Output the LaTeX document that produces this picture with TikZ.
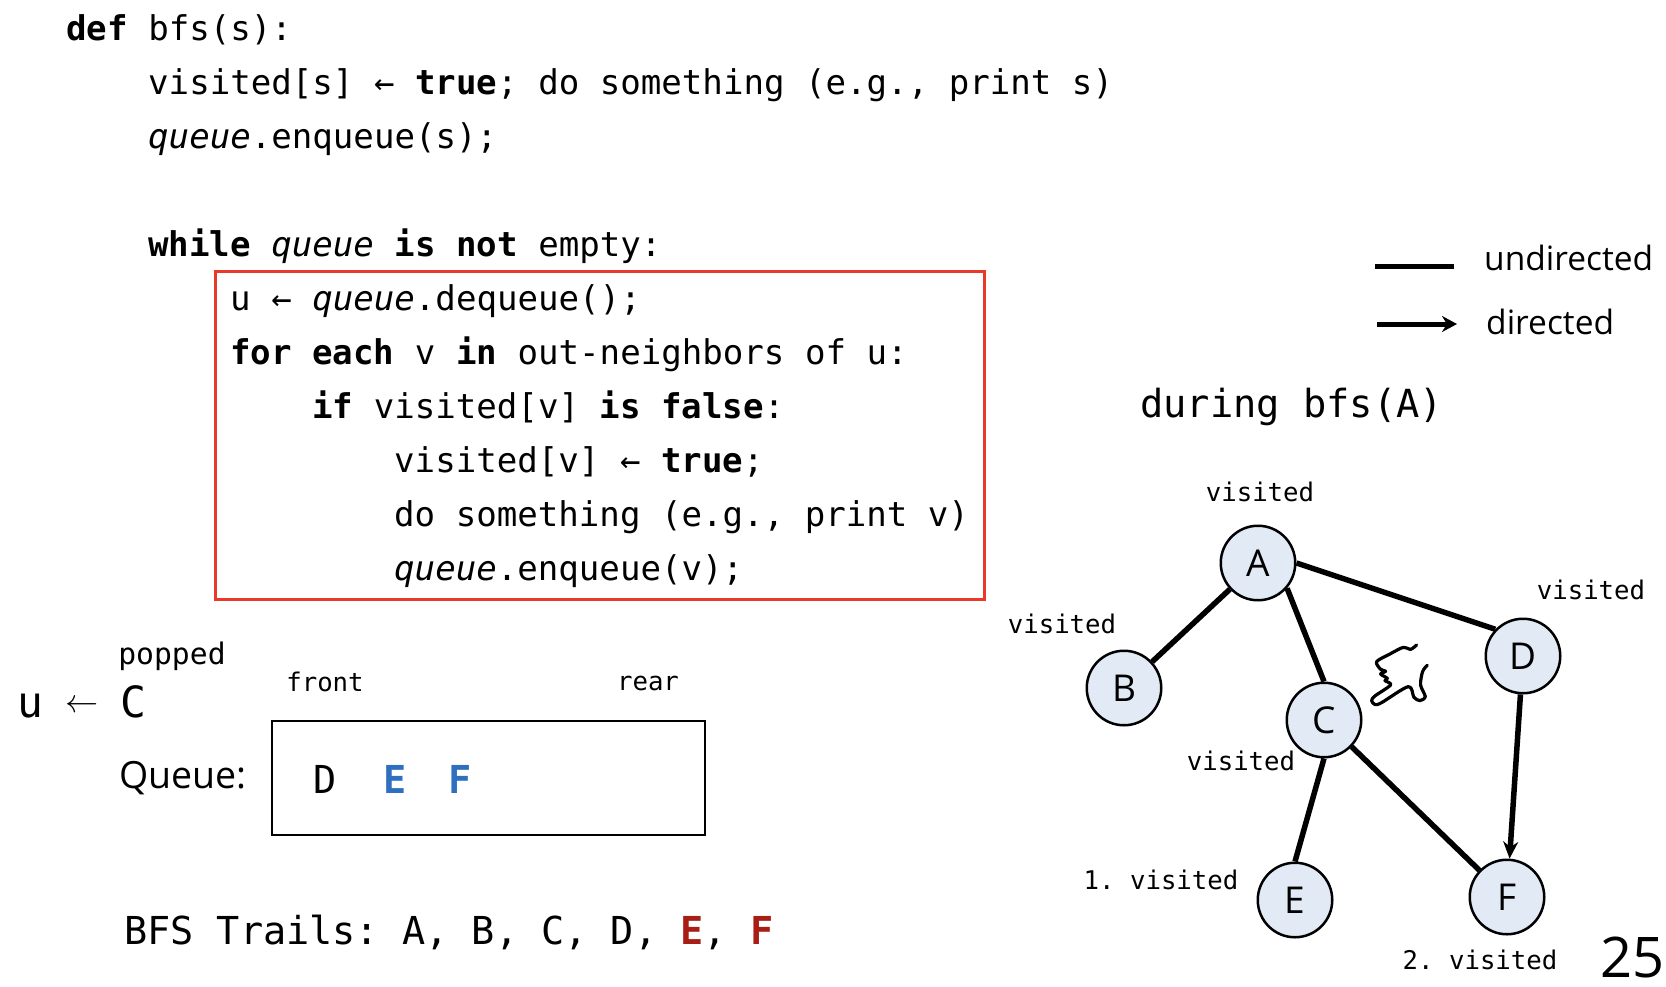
\documentclass[tikz,border=0pt]{standalone}
\usepackage{fontspec}
\setmainfont{Open Sans}
\setmonofont{DejaVu Sans Mono}
\usetikzlibrary{arrows.meta}

\definecolor{boxred}{HTML}{E8392B}
\definecolor{nodefill}{HTML}{E1EAF5}
\definecolor{newblue}{HTML}{2F6FBF}
\definecolor{trailred}{HTML}{A81E14}

\newcommand{\kw}[1]{\textbf{#1}}
\newcommand{\qu}{\textit{queue}}

\tikzset{
  codeline/.style={anchor=base west, inner sep=0pt, font=\fontsize{34.1}{40}\selectfont\ttfamily},
  biglabel/.style={anchor=base west, inner sep=0pt, font=\fontsize{38.5}{44}\selectfont\ttfamily},
  smalllabel/.style={inner sep=0pt, font=\fontsize{25.7}{30}\selectfont\ttfamily},
  sanslabel/.style={anchor=base west, inner sep=0pt, font=\fontsize{33.5}{38}\selectfont},
  vertex/.style={circle, draw, fill=nodefill, line width=2.5pt, minimum size=74.5pt, inner sep=0pt,
    font=\fontsize{37}{42}\selectfont},
  edgeline/.style={line width=5.5pt},
}

\begin{document}
\begin{tikzpicture}[x=1pt, y=-1pt]
  \useasboundingbox (0,0) rectangle (1666,986);

  % pseudocode
  \foreach \x/\y/\t [count=\i] in {
    66/40/{\kw{def} bfs(s):},
    148/94/{visited[s] ← \kw{true}; do something (e.g., print s)},
    148/148/{\qu.enqueue(s);},
    148/256/{\kw{while} \qu{} \kw{is not} empty:},
    230/310/{u ← \qu.dequeue();},
    230/364/{\kw{for each} v \kw{in} out-neighbors of u:},
    312/418/{\kw{if} visited[v] \kw{is false}:},
    394/472/{visited[v] ← \kw{true};},
    394/526/{do something (e.g., print v)},
    394/580/{\qu.enqueue(v);}} {
    \node[codeline] (line\i) at (\x,\y) {\t};
  }
  \node[draw=boxred, line width=2.2pt, inner sep=0pt, minimum width=769pt, minimum height=328pt] (redbox) at (600,435.5) {};

  % legend
  \coordinate (und1) at (1375,266);
  \coordinate (und2) at (1454,266);
  \coordinate (dir1) at (1377,324);
  \coordinate (dir2) at (1457,324);
  \draw[line width=5pt] (und1) -- (und2);
  \draw[line width=5pt, -{Stealth[length=15pt,width=16pt]}] (dir1) -- (dir2);
  \node[sanslabel] (undlabel) at (1484,270) {undirected};
  \node[sanslabel] (dirlabel) at (1486,334) {directed};
  \node[biglabel, font=\fontsize{38.7}{44}\selectfont\ttfamily] (during) at (1140,417) {during bfs(A)};

  % queue state
  \node[smalllabel, font=\fontsize{29.7}{34}\selectfont\ttfamily] (popped) at (172,656) {popped};
  \node[anchor=base west, inner sep=0pt, font=\fontsize{43}{48}\selectfont\ttfamily] (popline) at (17,717)
    {u \makebox[26pt]{\raisebox{5pt}{\scalebox{1.33}{$\leftarrow$}}} C};
  \node[smalllabel] (front) at (325,682) {front};
  \node[smalllabel] (rear) at (648,683) {rear};
  \node[anchor=base west, inner sep=0pt, font=\fontsize{37.5}{42}\selectfont] (queuelabel) at (119,788) {Queue:};
  \node[draw, line width=2.4pt, inner sep=0pt, minimum width=433pt, minimum height=114pt] (queuebox) at (488.5,778) {};
  \node[biglabel, anchor=base] (qD) at (325,793) {D};
  \node[biglabel, anchor=base, text=newblue] (qE) at (395,793) {\kw{E}};
  \node[biglabel, anchor=base, text=newblue] (qF) at (460,793) {\kw{F}};
  \node[biglabel] (trails) at (124,944) {BFS Trails: A, B, C, D, \textcolor{trailred}{\kw{E}}, \textcolor{trailred}{\kw{F}}};

  % graph
  \foreach \n/\x/\y in {A/1258/563, B/1124/688, C/1324/720, D/1523/656, E/1295/900, F/1507/897} {
    \node[vertex] (\n) at (\x,\y) {\n};
  }
  \draw[edgeline] (A) -- (B);
  \draw[edgeline] (A.-41) -- (C.north);
  \draw[edgeline] (A.east) -- (D.136);
  \draw[edgeline] (C.south) -- (E.north);
  \draw[edgeline] (C) -- (F);
  \draw[edgeline, -{Stealth[length=17pt,width=15pt]}] (D) -- (F);

  % visited marks
  \foreach \s/\x/\y/\t in {a/1260/492/visited, d/1591/590/visited, b/1062/624/visited,
    c/1241/761/visited, e/1161/880/{1. visited}, f/1480/960/{2. visited}} {
    \node[smalllabel] (mark\s) at (\x,\y) {\t};
  }

  % pointing hand
  \begin{scope}[shift={(1340,630)}, x=0.333pt, y=-0.333pt, line width=3.2pt, line cap=round, line join=round]
    \draw plot[smooth] coordinates {(230,45) (212,58) (190,52) (150,72) (110,95) (122,118) (137,124)
      (122,132) (142,145) (135,152) (152,165) (105,198) (95,212) (105,224) (125,218) (205,170)
      (222,202) (240,212) (256,200) (242,165) (248,125) (262,106)};
  \end{scope}

  % page number
  \node[anchor=base east, inner sep=0pt, font=\fontsize{56}{60}\selectfont] (pagenum) at (1665,977) {25};
\end{tikzpicture}
\end{document}
